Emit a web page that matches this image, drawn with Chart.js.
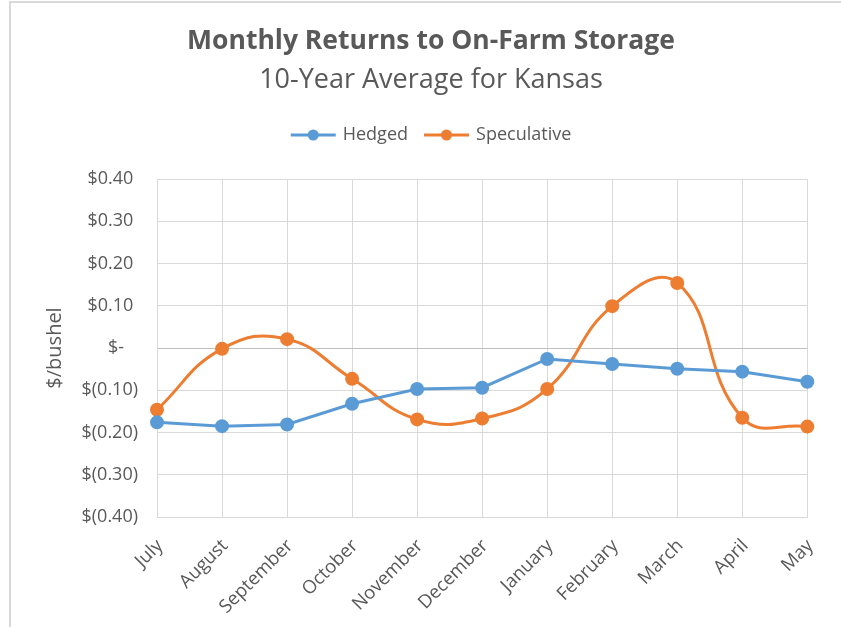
<!DOCTYPE html>
<html>
<head>
<meta charset="utf-8">
<title>Monthly Returns to On-Farm Storage</title>
<script src="https://cdn.jsdelivr.net/npm/chart.js@4"></script>
<style>
  html, body { margin: 0; padding: 0; background: #fff; }
  #wrap { position: relative; width: 841px; height: 627px; }
  #frame { position: absolute; left: 9px; top: 1px; right: 0; bottom: 0;
           border-top: 2px solid #d9d9d9; border-left: 2px solid #d9d9d9; pointer-events: none; }
  canvas { position: absolute; left: 0; top: 0; }
</style>
</head>
<body>
<div id="wrap">
  <canvas id="chart" width="841" height="627"></canvas>
  <div id="frame"></div>
</div>
<script>
const months = ['July', 'August', 'September', 'October', 'November', 'December',
  'January', 'February', 'March', 'April', 'May'];
const hedged = [-0.176, -0.185, -0.181, -0.132, -0.097, -0.094, -0.026, -0.038, -0.049, -0.056, -0.080];
const speculative = [-0.146, -0.002, 0.021, -0.073, -0.169, -0.167, -0.097, 0.099, 0.154, -0.165, -0.186];

const titleText = 'Monthly Returns to On-Farm Storage';
const subtitleText = '10-Year Average for Kansas';
const textColor = '#595959';
const fontFamily = '"Open Sans", "Noto Sans", sans-serif';

// accounting style: $0.10, $(0.10), $- ; positives keep room for the closing paren
function dollar(v) {
  if (Math.abs(v) < 1e-9) return '$-   ';
  if (v < 0) return '$(' + Math.abs(v).toFixed(2) + ')';
  return '$' + v.toFixed(2) + ' ';
}

// title, subtitle and the line-and-marker legend
const headerPlugin = {
  id: 'header',
  afterDraw(chart) {
    const ctx = chart.ctx;
    const cx = 431;
    ctx.save();
    ctx.fillStyle = textColor;
    ctx.textAlign = 'center';
    ctx.textBaseline = 'middle';
    ctx.font = 'bold 26.5px ' + fontFamily;
    ctx.fillText(titleText, cx, 41);
    ctx.font = '27px ' + fontFamily;
    ctx.fillText(subtitleText, cx, 80);

    ctx.font = '18px ' + fontFamily;
    const sym = 45, gap = 7, itemGap = 16;
    const items = chart.data.datasets.map(ds => ({
      label: ds.label, color: ds.borderColor, w: sym + gap + ctx.measureText(ds.label).width
    }));
    const total = items.reduce((s, it) => s + it.w, 0) + itemGap * (items.length - 1);
    let x = cx - total / 2;
    const y = 135;
    items.forEach(it => {
      ctx.strokeStyle = it.color;
      ctx.lineWidth = 3;
      ctx.beginPath();
      ctx.moveTo(x, y);
      ctx.lineTo(x + sym, y);
      ctx.stroke();
      ctx.fillStyle = it.color;
      ctx.beginPath();
      ctx.arc(x + sym / 2, y, 5.5, 0, Math.PI * 2);
      ctx.fill();
      ctx.fillStyle = textColor;
      ctx.textAlign = 'left';
      ctx.fillText(it.label, x + sym + gap, y);
      x += it.w + itemGap;
    });
    ctx.restore();
  }
};

new Chart(document.getElementById('chart'), {
  type: 'line',
  data: {
    labels: months,
    datasets: [
      {
        label: 'Hedged',
        data: hedged,
        borderColor: '#5b9bd5',
        backgroundColor: '#5b9bd5',
        borderWidth: 3,
        pointRadius: 5.5,
        pointHoverRadius: 5.5,
        tension: 0
      },
      {
        label: 'Speculative',
        data: speculative,
        borderColor: '#ed7d31',
        backgroundColor: '#ed7d31',
        borderWidth: 3,
        pointRadius: 5.5,
        pointHoverRadius: 5.5,
        tension: 0.45
      }
    ]
  },
  options: {
    responsive: false,
    animation: false,
    layout: { padding: { top: 179, right: 32, bottom: 0, left: 0 } },
    plugins: {
      legend: { display: false },
      title: { display: false },
      tooltip: { enabled: false }
    },
    scales: {
      x: {
        afterFit(s) { s.height = 110; },
        grid: { color: '#d9d9d9', drawTicks: false },
        border: { color: '#d9d9d9' },
        ticks: {
          color: textColor,
          font: { family: fontFamily, size: 18.5 },
          maxRotation: 45,
          minRotation: 45,
          padding: 18,
          labelOffset: 3,
          autoSkip: false
        }
      },
      y: {
        min: -0.4,
        max: 0.4,
        afterFit(s) { s.width = 157; },
        grid: {
          color: c => (c.tick && Math.abs(c.tick.value) < 1e-9) ? '#bfbfbf' : '#d9d9d9',
          drawTicks: false
        },
        border: { color: '#d9d9d9' },
        ticks: {
          stepSize: 0.1,
          color: textColor,
          font: { family: fontFamily, size: 18 },
          padding: 19,
          callback: v => dollar(v)
        },
        title: {
          display: true,
          text: '$/bushel',
          color: textColor,
          font: { family: fontFamily, size: 20 },
          padding: { top: 43, bottom: 0 }
        }
      }
    }
  },
  plugins: [headerPlugin]
});
</script>
</body>
</html>
